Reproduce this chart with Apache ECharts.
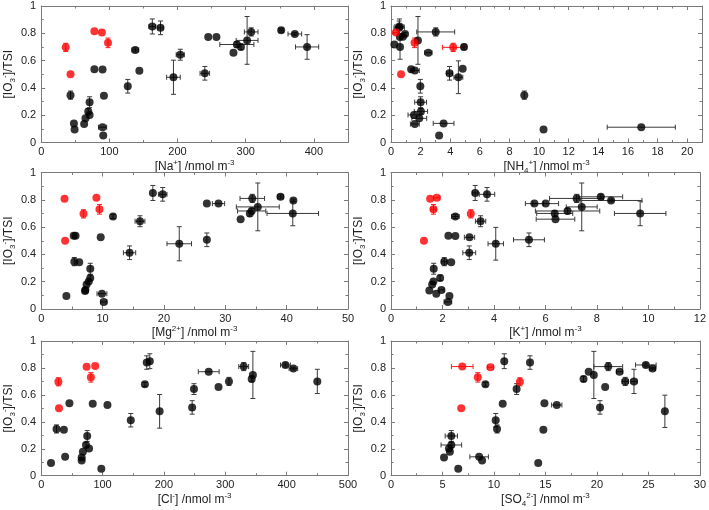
<!DOCTYPE html>
<html><head><meta charset="utf-8">
<script src="https://cdn.jsdelivr.net/npm/echarts@6/dist/echarts.min.js"></script>
<style>html,body{margin:0;padding:0;background:#fff}#c{width:709px;height:510px}</style>
</head><body><div id="c"></div>
<script>
// Each point: [x, y, xerr, yerr]
const naBlack = [
 [163,0.85,5,0.055],[175,0.84,4,0.05],[352,0.822,3,0.015],[308,0.81,10,0.03],[372,0.795,10,0.01],
 [245,0.772,0,0],[257,0.772,0,0],[302,0.748,16,0.175],[287,0.718,25,0.02],[293,0.70,0,0.02],
 [390,0.70,17,0.09],[282,0.658,0,0],[138,0.678,5,0.015],[204,0.643,6,0.04],[78,0.537,0,0],
 [90,0.534,0,0],[144,0.525,0,0],[240,0.507,7,0.05],[194,0.478,10,0.125],[127,0.412,0,0.05],
 [43,0.347,0,0.03],[92,0.342,0,0],[71,0.295,0,0.04],[69,0.228,0,0.02],[71,0.202,0,0],
 [65,0.177,0,0],[63,0.135,0,0],[48,0.14,0,0],[49,0.095,0,0],[90,0.112,6,0],[91,0.052,0,0]
];
const naRed = [[36,0.697,0,0.03],[43,0.50,0,0],[78,0.815,0,0],[89,0.805,0,0],[98,0.73,0,0.035]];

const nhBlack = [
 [0.57,0.85,0.3,0.055],[0.55,0.84,0.35,0.05],[3.02,0.81,1.28,0.03],[0.95,0.795,0,0.01],[0.8,0.775,0,0],
 [0.6,0.772,0,0],[1.82,0.748,0,0.175],[0.23,0.718,0,0],[0.61,0.70,0,0.09],[4.93,0.70,0.15,0.02],
 [2.52,0.658,0.25,0],[1.36,0.537,0,0],[1.61,0.527,0.3,0],[3.95,0.507,0.2,0.05],[4.84,0.541,0,0],
 [4.55,0.478,0.3,0.12],[1.98,0.412,0,0.05],[9.0,0.347,0,0.03],[2.0,0.295,0.4,0.04],[2.02,0.228,0.45,0.02],
 [1.55,0.202,0.4,0],[1.91,0.177,0.5,0],[1.61,0.135,0.3,0],[3.55,0.14,0.7,0],[10.3,0.095,0,0],
 [16.9,0.112,2.3,0],[3.25,0.052,0,0]
];
const nhRed = [[0.34,0.805,0.2,0],[1.59,0.73,0,0.035],[4.2,0.697,0.73,0.03],[0.68,0.50,0,0]];

const mgBlack = [
 [18.2,0.85,0,0.055],[19.8,0.84,0.7,0.05],[39.0,0.822,0.5,0.015],[34.4,0.81,2,0.03],[41.1,0.795,0,0.01],
 [27.0,0.772,0,0],[28.9,0.772,1,0],[35.3,0.748,3.5,0.175],[34.3,0.718,2.3,0.02],[34.0,0.70,0,0.02],
 [41.0,0.70,4.2,0.09],[32.5,0.658,0,0],[11.7,0.678,0,0.015],[16.1,0.643,0.8,0.04],[5.3,0.537,0,0],
 [5.6,0.537,0,0],[9.7,0.525,0,0],[27.0,0.507,0,0.05],[22.5,0.478,2,0.125],[14.4,0.412,1,0.05],
 [5.4,0.347,0,0.03],[6.2,0.342,0,0],[8.0,0.295,0,0.04],[8.0,0.228,0,0.02],[7.75,0.202,0,0],
 [7.4,0.18,0,0],[7.15,0.132,0,0],[7.2,0.14,0,0],[4.1,0.095,0,0],[9.9,0.112,0.8,0],[10.2,0.052,0.5,0]
];
const mgRed = [[3.8,0.808,0,0],[6.9,0.697,0,0.03],[9.0,0.815,0,0],[9.5,0.73,0,0.035],[3.9,0.50,0,0]];

const kBlack = [
 [3.27,0.85,0.1,0.055],[3.73,0.84,0.3,0.05],[8.15,0.822,0.85,0.015],[7.21,0.81,1.05,0.03],[8.55,0.795,1.2,0.01],
 [5.57,0.772,0.35,0],[6.01,0.772,0.5,0],[7.41,0.748,0.6,0.175],[6.86,0.718,1.25,0.02],[6.36,0.70,0.7,0.02],
 [9.68,0.70,1.0,0.09],[6.39,0.658,0.75,0],[2.5,0.678,0.15,0.015],[3.48,0.643,0.2,0.04],[2.23,0.537,0,0],
 [2.5,0.534,0,0],[3.05,0.525,0.2,0],[5.36,0.507,0.6,0.05],[4.07,0.478,0.3,0.12],[3.04,0.412,0.25,0.05],
 [2.07,0.347,0.1,0.03],[2.34,0.342,0,0],[1.66,0.295,0,0.04],[1.91,0.228,0,0.02],[1.65,0.202,0,0],
 [1.6,0.18,0,0],[1.49,0.135,0,0],[1.96,0.14,0.1,0],[2.27,0.095,0,0],[1.76,0.112,0,0],[2.21,0.052,0.15,0]
];
const kRed = [[1.52,0.808,0,0],[1.78,0.815,0.12,0],[1.65,0.73,0.1,0.035],[3.1,0.697,0,0.03],[1.28,0.50,0,0]];

const clBlack = [
 [177,0.85,0,0.055],[172,0.84,0,0.05],[398,0.822,8,0.015],[330,0.81,8,0.03],[411,0.795,7,0.01],
 [273,0.772,17,0],[345,0.748,0,0.175],[343,0.718,0,0.02],[306,0.70,0,0.03],[450,0.70,0,0.09],
 [289,0.658,0,0],[169,0.678,0,0.015],[249,0.643,0,0.04],[46,0.537,0,0],[84,0.534,0,0],
 [108,0.525,0,0],[246,0.507,0,0.05],[193,0.478,0,0.125],[146,0.412,0,0.05],[25,0.347,0,0.03],
 [37,0.342,0,0],[75,0.295,0,0.04],[73,0.228,0,0.02],[78,0.202,0,0],[68,0.177,0,0],
 [66,0.135,0,0],[66,0.112,0,0],[39,0.14,0,0],[16,0.095,0,0],[98,0.052,0,0]
];
const clRed = [[28,0.697,0,0.03],[29,0.50,0,0],[74,0.808,0,0],[88,0.815,0,0],[81,0.73,0,0.035]];

const soBlack = [
 [11.0,0.85,0,0.055],[13.5,0.84,0,0.05],[24.75,0.822,1,0.015],[21.1,0.81,1.4,0.03],[25.4,0.795,0.3,0.01],
 [19.2,0.772,0,0],[22.2,0.772,0.3,0],[19.7,0.748,0,0.175],[18.7,0.718,0,0.02],[22.75,0.70,0.3,0.03],
 [23.6,0.70,0.3,0.09],[20.8,0.658,0,0],[9.17,0.678,0,0.015],[12.2,0.643,0,0.04],[10.85,0.534,0,0],
 [14.9,0.537,0,0],[16.1,0.525,0.5,0],[20.3,0.507,0,0.05],[26.6,0.478,0,0.12],[10.17,0.412,0,0.05],
 [10.3,0.347,0,0.03],[14.8,0.342,0,0],[5.86,0.295,0.6,0.04],[5.86,0.228,1.0,0.02],[5.63,0.202,0,0],
 [5.72,0.177,0,0],[5.15,0.135,0,0],[8.56,0.14,0.9,0],[14.3,0.095,0,0],[8.85,0.112,0,0],[6.53,0.052,0,0]
];
const soRed = [[6.92,0.81,1.05,0],[9.66,0.805,0.3,0],[8.43,0.73,0,0.035],[12.52,0.697,0,0.03],[6.82,0.50,0,0]];

// Axis ranges and tick intervals
const xMax = [450, 21, 50, 12, 500, 30];
const xStep = [100, 2, 10, 2, 100, 5];
const xNames = [
 '{n|[Na}{sup|+}{n|] /nmol m}{sup|-3}',
 '{n|[NH}{sub|4}{sup|+}{n|] /nmol m}{sup|-3}',
 '{n|[Mg}{sup|2+}{n|] /nmol m}{sup|-3}',
 '{n|[K}{sup|+}{n|] /nmol m}{sup|-3}',
 '{n|[Cl}{sup|-}{n|] /nmol m}{sup|-3}',
 '{n|[SO}{sub|4}{sup|2-}{n|] /nmol m}{sup|-3}'
];
const yName = '{n|[IO}{sub|3}{sup|-}{n|]/TSI}';
const blackSets = [naBlack, nhBlack, mgBlack, kBlack, clBlack, soBlack];
const redSets = [naRed, nhRed, mgRed, kRed, clRed, soRed];

const FONT = 'Liberation Sans, Arial, sans-serif';
const AX = '#7a7a7a';
const rich = {
  n: {fontSize: 12, lineHeight: 16, color: '#222', fontFamily: FONT},
  sup: {fontSize: 8, lineHeight: 8, verticalAlign: 'top', color: '#222', fontFamily: FONT},
  sub: {fontSize: 8, lineHeight: 8, verticalAlign: 'bottom', color: '#222', fontFamily: FONT}
};

const grids = [], xAxes = [], yAxes = [], series = [];
const lefts = [37, 391];
const tops = [6, 172.5, 341];
const heights = [136.5, 136.5, 134.7];

function tickCfg(){ return {show: true, inside: true, length: 4, lineStyle: {color: AX}}; }
function minorCfg(){ return {show: true, splitNumber: 2, length: 2.5, lineStyle: {color: AX}}; }

function errItem(color){
  return function(params, api){
    const x = api.value(0), y = api.value(1), xe = api.value(2), ye = api.value(3);
    const ch = [];
    const st = {stroke: color, lineWidth: 1};
    const cap = 2.5;
    if (xe > 0) {
      const l = api.coord([x - xe, y]), r = api.coord([x + xe, y]);
      ch.push({type:'line', shape:{x1:l[0],y1:l[1],x2:r[0],y2:r[1]}, style: st});
      ch.push({type:'line', shape:{x1:l[0],y1:l[1]-cap,x2:l[0],y2:l[1]+cap}, style: st});
      ch.push({type:'line', shape:{x1:r[0],y1:r[1]-cap,x2:r[0],y2:r[1]+cap}, style: st});
    }
    if (ye > 0) {
      const t = api.coord([x, y + ye]), b = api.coord([x, y - ye]);
      ch.push({type:'line', shape:{x1:t[0],y1:t[1],x2:b[0],y2:b[1]}, style: st});
      ch.push({type:'line', shape:{x1:t[0]-cap,y1:t[1],x2:t[0]+cap,y2:t[1]}, style: st});
      ch.push({type:'line', shape:{x1:b[0]-cap,y1:b[1],x2:b[0]+cap,y2:b[1]}, style: st});
    }
    return {type:'group', children: ch};
  };
}

for (let i = 0; i < 6; i++) {
  const row = Math.floor(i / 2), col = i % 2;
  grids.push({left: lefts[col], top: tops[row], width: 311, height: heights[row], containLabel: false});
  // bottom x
  xAxes.push({
    type: 'value', gridIndex: i, position: 'bottom', min: 0, max: xMax[i], interval: xStep[i],
    name: xNames[i], nameLocation: 'middle', nameGap: row === 2 ? 14 : 12.5,
    nameTextStyle: {rich: rich},
    axisLine: {show: true, onZero: false, lineStyle: {color: AX}},
    axisTick: tickCfg(), minorTick: minorCfg(),
    axisLabel: {fontSize: 11, color: '#222', fontFamily: FONT, margin: 4, showMaxLabel: xMax[i] % xStep[i] === 0},
    splitLine: {show: false}
  });
  // top x (mirror)
  xAxes.push({
    type: 'value', gridIndex: i, position: 'top', min: 0, max: xMax[i], interval: xStep[i],
    axisLine: {show: true, onZero: false, lineStyle: {color: AX}},
    axisTick: tickCfg(), minorTick: minorCfg(), axisLabel: {show: false}, splitLine: {show: false}
  });
  yAxes.push({
    type: 'value', gridIndex: i, position: 'left', min: 0, max: 1, interval: 0.2,
    name: yName, nameLocation: 'middle', nameGap: 21, nameRotate: 90,
    nameTextStyle: {rich: rich},
    axisLine: {show: true, onZero: false, lineStyle: {color: AX}},
    axisTick: tickCfg(), minorTick: minorCfg(),
    axisLabel: {fontSize: 11, color: '#222', fontFamily: FONT, margin: 5,
      formatter: v => (v === 0 || v === 1) ? String(v) : v.toFixed(1)},
    splitLine: {show: false}
  });
  yAxes.push({
    type: 'value', gridIndex: i, position: 'right', min: 0, max: 1, interval: 0.2,
    axisLine: {show: true, onZero: false, lineStyle: {color: AX}},
    axisTick: tickCfg(), minorTick: minorCfg(), axisLabel: {show: false}, splitLine: {show: false}
  });
  const xi = i * 2, yi = i * 2;
  series.push({type:'custom', xAxisIndex: xi, yAxisIndex: yi, data: blackSets[i], encode:{x:0,y:1},
    renderItem: errItem('#3a3a3a'), z: 1, silent: true, clip: false});
  series.push({type:'custom', xAxisIndex: xi, yAxisIndex: yi, data: redSets[i], encode:{x:0,y:1},
    renderItem: errItem('#ff1a1a'), z: 1, silent: true, clip: false});
  series.push({type:'scatter', xAxisIndex: xi, yAxisIndex: yi, data: blackSets[i], encode:{x:0,y:1},
    symbol:'circle', symbolSize: 8, itemStyle:{color:'#000'}, z: 3, silent: true});
  series.push({type:'scatter', xAxisIndex: xi, yAxisIndex: yi, data: redSets[i], encode:{x:0,y:1},
    symbol:'circle', symbolSize: 8, itemStyle:{color:'#ff0000'}, z: 4, silent: true});
}

const chart = echarts.init(document.getElementById('c'), null, {renderer: 'canvas'});
chart.setOption({
  animation: false, backgroundColor: '#fff',
  textStyle: {fontFamily: FONT},
  grid: grids, xAxis: xAxes, yAxis: yAxes, series: series
});
</script></body></html>
